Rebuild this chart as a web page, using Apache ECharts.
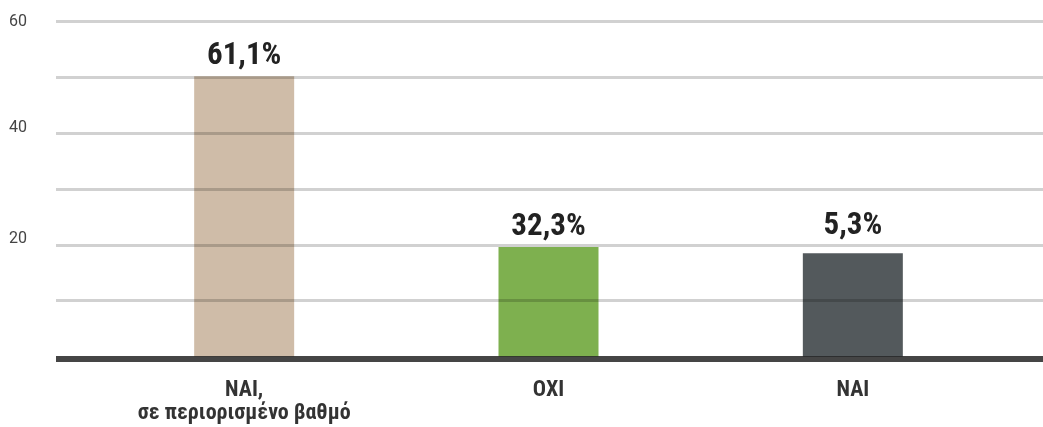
<!DOCTYPE html>
<html>
<head>
<meta charset="utf-8">
<script src="https://cdn.jsdelivr.net/npm/echarts@6/dist/echarts.min.js"></script>
<style>
html,body{margin:0;padding:0;background:#fff;}
#chart{width:1043px;height:427px;}
</style>
</head>
<body>
<div id="chart"></div>
<script>
// Data
const categories = ['NAI,\nσε περιορισμένο βαθμό', 'OXI', 'NAI'];
const barValues = [50.2, 19.6, 18.5];
const barLabels = ['61,1%', '32,3%', '5,3%'];
const barColors = ['#cfbca8', '#7eb04f', '#53595c'];
const yTicks = [20, 40, 60];
const gridLevels = [10, 20, 30, 40, 50, 60];

const condensed = '"Roboto Condensed","DejaVu Sans Condensed","Liberation Sans Narrow",Roboto,sans-serif';

const chart = echarts.init(document.getElementById('chart'));
const option = {
  animation: false,
  backgroundColor: '#fff',
  grid: [
    {left: 56, right: 0, top: 21.5, bottom: 70.5, containLabel: false},
    {left: 92, right: 38, top: 21.5, bottom: 70.5, containLabel: false}
  ],
  xAxis: [
    {
      gridIndex: 0, type: 'value', min: 0, max: 1, z: 4,
      axisLine: {show: true, onZero: false, lineStyle: {color: '#000', opacity: 0.73, width: 6, cap: 'butt'}},
      offset: 2,
      axisTick: {show: false}, axisLabel: {show: false}, splitLine: {show: false}
    },
    {
      gridIndex: 1, type: 'category', data: categories,
      axisLine: {show: false}, axisTick: {show: false}, splitLine: {show: false},
      axisLabel: {
        margin: 22, color: '#333', fontSize: 22, fontWeight: 'bold', lineHeight: 23,
        fontFamily: condensed
      }
    }
  ],
  yAxis: [
    {
      gridIndex: 0, type: 'value', min: 0, max: 60, interval: 10,
      axisLine: {show: false}, axisTick: {show: false},
      splitLine: {show: false},
      axisLabel: {
        margin: 29, color: '#444', fontSize: 16, fontFamily: 'Roboto, sans-serif',
        formatter: function (v) {
          if (yTicks.indexOf(v) < 0) return '';
          return v === 60 ? '{a|' + v + '}' : '{b|' + v + '}';
        },
        rich: {
          a: {fontSize: 16, color: '#444', fontFamily: 'Roboto, sans-serif'},
          b: {fontSize: 16, color: '#444', fontFamily: 'Roboto, sans-serif', padding: [0, 0, 11, 0]}
        }
      }
    },
    {gridIndex: 1, type: 'value', min: 0, max: 60, show: false}
  ],
  series: [
    {
      type: 'bar',
      xAxisIndex: 1, yAxisIndex: 1,
      barWidth: 100,
      z: 2,
      data: barValues.map(function (v, i) {
        const d = {value: v, itemStyle: {color: barColors[i]}};
        if (i === 2) d.label = {distance: 11};
        return d;
      }),
      label: {
        show: true, position: 'top', distance: 4,
        color: '#222', fontSize: 31, fontWeight: 'bold', fontFamily: condensed,
        formatter: function (p) { return barLabels[p.dataIndex]; }
      }
    },
    {
      // horizontal grid lines drawn over the bars
      type: 'line',
      xAxisIndex: 0, yAxisIndex: 0,
      data: [],
      z: 10,
      markLine: {
        z: 10,
        symbol: ['none', 'none'],
        label: {show: false},
        lineStyle: {color: '#000', opacity: 0.18, width: 3, type: 'solid'},
        data: gridLevels.map(function (g) { return {yAxis: g}; })
      }
    }
  ]
};
chart.setOption(option);
</script>
</body>
</html>
